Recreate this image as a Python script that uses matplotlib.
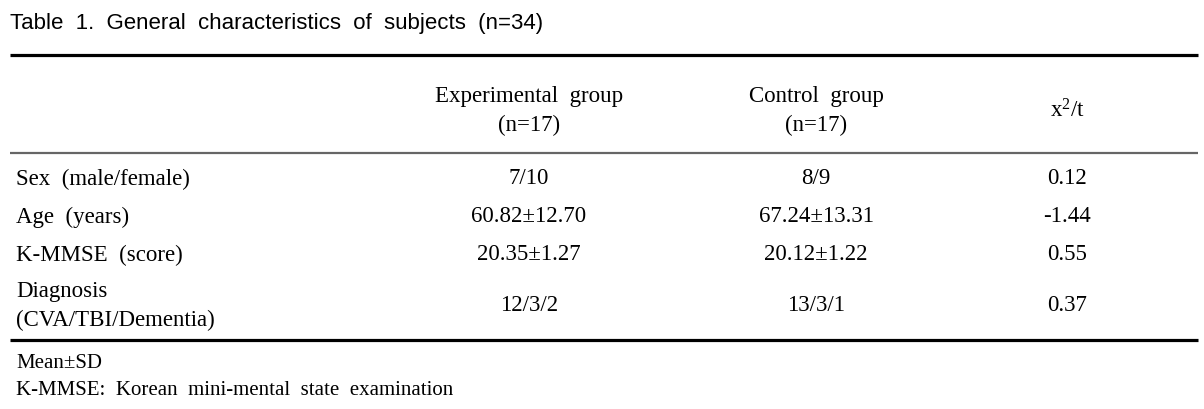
import matplotlib.pyplot as plt

plt.rcParams['mathtext.fontset'] = 'custom'
plt.rcParams['mathtext.rm'] = 'Liberation Serif'
plt.rcParams['mathtext.it'] = 'Liberation Serif'

title = "Table  1.  General  characteristics  of  subjects  (n=34)"
col_heads = [["Experimental  group", "(n=17)"], ["Control  group", "(n=17)"], ["x$^{2}$/t"]]
row_labels = [["Sex  (male/female)"], ["Age  (years)"], ["K-MMSE  (score)"],
              ["Diagnosis", "(CVA/TBI/Dementia)"]]
exp_vals = ["7/10", "60.82\u00b112.70", "20.35\u00b11.27", "12/3/2"]
ctl_vals = ["8/9", "67.24\u00b113.31", "20.12\u00b11.22", "13/3/1"]
stat_vals = ["0.12", "-1.44", "0.55", "0.37"]
notes = ["Mean\u00b1SD", "K-MMSE:  Korean  mini-mental  state  examination"]

W, H = 1204, 410
fig = plt.figure(figsize=(W / 100, H / 100), dpi=100)
ax = fig.add_axes([0, 0, 1, 1])
ax.set_xlim(0, W)
ax.set_ylim(H, 0)
ax.axis("off")

serif = "Liberation Serif"
fs = 16.5
gap = 29  # distance between the two lines of a cell

ax.text(10, 23, title, family="Liberation Sans", fontsize=16, va="center", ha="left")

# rules
ax.plot([10, 1198], [56, 56], color="black", lw=2.3, solid_capstyle="butt")
ax.plot([10, 1198], [154, 154], color="#666666", lw=1.6, solid_capstyle="butt")
ax.plot([10, 1198], [341, 341], color="black", lw=2.3, solid_capstyle="butt")


def cell(x, y, lines, ha):
    top = y - gap * (len(lines) - 1) / 2
    for i, s in enumerate(lines):
        ax.text(x, top + i * gap, s, family=serif, fontsize=fs, ha=ha, va="center")


col_x = [529, 816, 1067]
for x, head in zip(col_x, col_heads):
    cell(x, 111, head, "center")

row_y = [179, 217, 255, 306]
for y, lab, a, b, c in zip(row_y, row_labels, exp_vals, ctl_vals, stat_vals):
    cell(16, y, lab, "left")
    for x, v in zip(col_x, [a, b, c]):
        cell(x, y, [v], "center")

for y, note in zip([364, 391], notes):
    ax.text(16, y, note, family=serif, fontsize=15, ha="left", va="center")

fig.savefig("out.png", dpi=100)
